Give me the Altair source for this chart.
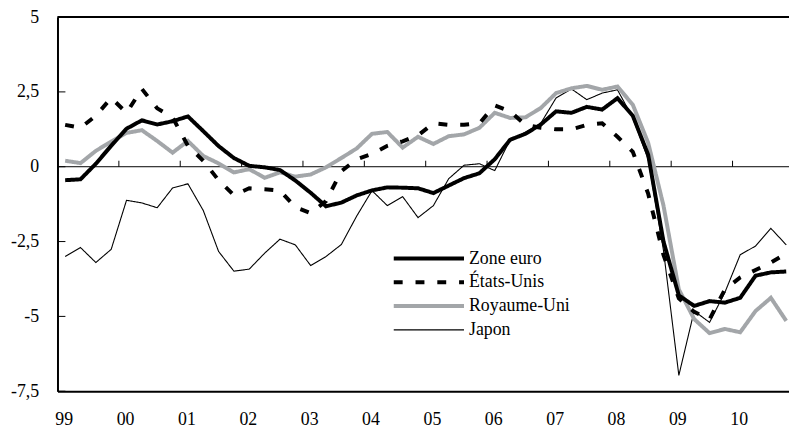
import altair as alt
import pandas as pd

# Quarterly output gap, 1999Q1 - 2010Q4
years = list(range(1999, 2011))
quarters = [y + q / 4 for y in years for q in range(4)]

zone_euro = [-0.45, -0.42, 0.1, 0.7, 1.27, 1.55, 1.41, 1.52,
             1.68, 1.19, 0.69, 0.29, 0.03, -0.02, -0.11, -0.46,
             -0.87, -1.32, -1.2, -0.96, -0.79, -0.69, -0.7, -0.72,
             -0.88, -0.63, -0.38, -0.22, 0.25, 0.9, 1.1, 1.41,
             1.85, 1.8, 2.0, 1.91, 2.29, 1.7, 0.4, -2.5,
             -4.3, -4.65, -4.49, -4.54, -4.38, -3.64, -3.53, -3.5]

etats_unis = [1.4, 1.3, 1.7, 2.3, 1.8, 2.6, 1.95, 1.65,
              0.7, 0.2, -0.45, -0.95, -0.72, -0.75, -0.8, -1.35,
              -1.55, -1.15, -0.15, 0.25, 0.43, 0.7, 0.85, 1.05,
              1.45, 1.4, 1.4, 1.45, 2.05, 1.85, 1.4, 1.3,
              1.25, 1.25, 1.4, 1.45, 1.0, 0.5, -0.9, -2.95,
              -4.4, -4.85, -5.1, -4.1, -3.7, -3.45, -3.2, -2.9]

royaume_uni = [0.2, 0.12, 0.53, 0.84, 1.13, 1.22, 0.86, 0.47,
               0.86, 0.36, 0.11, -0.19, -0.08, -0.37, -0.19, -0.33,
               -0.26, -0.02, 0.29, 0.61, 1.1, 1.16, 0.64, 1.0,
               0.76, 1.02, 1.08, 1.3, 1.8, 1.63, 1.65, 1.96,
               2.46, 2.62, 2.7, 2.57, 2.68, 2.07, 0.8, -1.3,
               -4.1, -5.09, -5.56, -5.42, -5.53, -4.82, -4.38, -5.15]

japon = [-3.0, -2.7, -3.2, -2.76, -1.12, -1.21, -1.37, -0.71,
         -0.57, -1.46, -2.83, -3.49, -3.42, -2.89, -2.42, -2.61,
         -3.3, -3.0, -2.6, -1.65, -0.8, -1.3, -1.0, -1.7,
         -1.3, -0.4, 0.05, 0.1, -0.13, 0.9, 1.15, 1.45,
         2.3, 2.6, 2.24, 2.46, 2.57, 1.63, 0.25, -2.8,
         -6.97, -4.82, -5.2, -4.2, -2.94, -2.65, -2.06, -2.61]

series_names = ["Zone euro", "États-Unis", "Royaume-Uni", "Japon"]
series_colors = ["#000000", "#000000", "#A3A6A9", "#000000"]
series_dash = [[1, 0], [9, 13], [1, 0], [1, 0]]
series_width = [4, 4, 4, 1.1]

y_ticks = [-7.5, -5, -2.5, 0, 2.5, 5]
year_ticks = [y - 0.125 for y in range(2000, 2011)]

FONT = "Liberation Serif"

rows = []
for name, vals in [("Japon", japon), ("Royaume-Uni", royaume_uni),
                   ("États-Unis", etats_unis), ("Zone euro", zone_euro)]:
    for t, v in zip(quarters, vals):
        rows.append({"t": t, "v": v, "serie": name})
df = pd.DataFrame(rows)

xscale = alt.Scale(domain=[1998.875, 2010.795], nice=False, zero=False)
yscale = alt.Scale(domain=[-7.5, 5], nice=False, zero=False)

x_axis = alt.Axis(values=years, labelExpr="substring(toString(datum.value), 2, 4)",
                  ticks=False, grid=False, domainColor="black", domainWidth=2,
                  labelFont=FONT, labelFontSize=18, labelColor="black",
                  labelPadding=20, labelOffset=-1.5, title=None)
y_axis = alt.Axis(values=y_ticks, labelExpr="replace(toString(datum.value), '.', ',')",
                  ticks=False, grid=False, domainColor="black", domainWidth=2,
                  labelFont=FONT, labelFontSize=18, labelColor="black",
                  labelPadding=19, title=None)

lines = alt.Chart(df).mark_line(clip=True).encode(
    x=alt.X("t:Q", scale=xscale, axis=x_axis),
    y=alt.Y("v:Q", scale=yscale, axis=y_axis),
    color=alt.Color("serie:N", title=None,
                    scale=alt.Scale(domain=series_names, range=series_colors)),
    strokeDash=alt.StrokeDash("serie:N", title=None,
                              scale=alt.Scale(domain=series_names, range=series_dash)),
    strokeWidth=alt.StrokeWidth("serie:N", title=None,
                                scale=alt.Scale(type="ordinal", domain=series_names,
                                                range=series_width)),
)

zero_line = alt.Chart(pd.DataFrame({"z": [0]})).mark_rule(color="black", strokeWidth=1).encode(
    y=alt.Y("z:Q", scale=yscale)
)

top_line = alt.Chart(pd.DataFrame({"z": [5]})).mark_rule(color="black", strokeWidth=2).encode(
    y=alt.Y("z:Q", scale=yscale)
)

year_tick_marks = alt.Chart(pd.DataFrame({"t": year_ticks, "y0": 0, "y1": 0.2})).mark_rule(
    color="black", strokeWidth=1
).encode(
    x=alt.X("t:Q", scale=xscale),
    y=alt.Y("y0:Q", scale=yscale),
    y2="y1:Q",
)

y_tick_marks = alt.Chart(pd.DataFrame({"v": y_ticks})).mark_rule(
    color="black", strokeWidth=1
).encode(
    y=alt.Y("v:Q", scale=yscale),
    x=alt.value(0),
    x2=alt.value(8),
)

chart = alt.layer(
    zero_line, year_tick_marks, y_tick_marks, lines, top_line
).properties(
    width=739,
    height=378,
    padding={"left": 50, "top": 7, "right": 0, "bottom": 35},
    autosize=alt.AutoSizeParams(type="none"),
    background="white",
).configure_view(
    stroke=None
).configure_legend(
    orient="none",
    legendX=337.7,
    legendY=234,
    symbolType="stroke",
    symbolSize=5041,
    clipHeight=20,
    rowPadding=4,
    labelFont=FONT,
    labelFontSize=18,
    labelColor="black",
    labelOffset=3,
    padding=0,
    labelLimit=300,
)

chart.save("out.html", embed_options={"renderer": "svg", "actions": False})
